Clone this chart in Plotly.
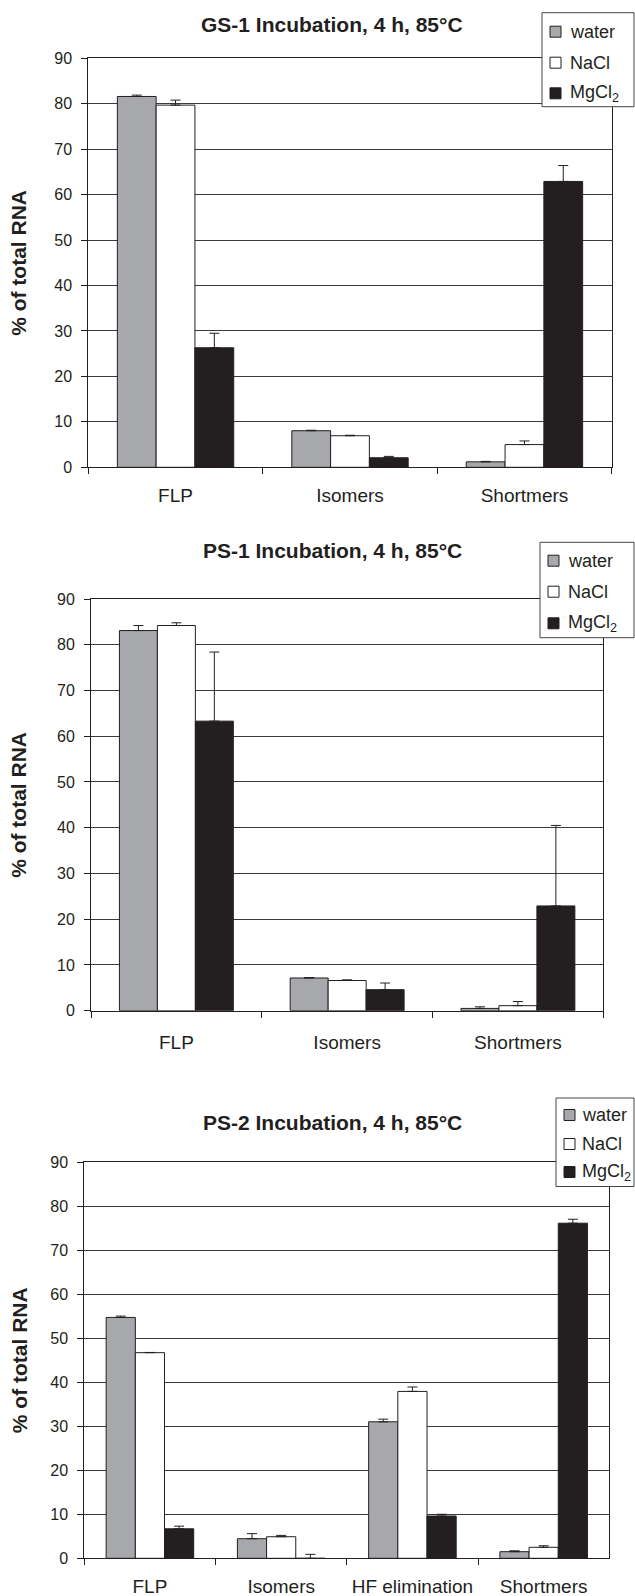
import plotly.graph_objects as go

# ---------------- data ----------------
series = ["water", "NaCl", "MgCl<sub>2</sub>"]

titles = ["GS-1 Incubation, 4 h, 85°C",
          "PS-1 Incubation, 4 h, 85°C",
          "PS-2 Incubation, 4 h, 85°C"]

cats_1 = ["FLP", "Isomers", "Shortmers"]
water_1 = [81.6, 8.05, 1.2]
nacl_1 = [79.7, 6.95, 5.0]
mgcl2_1 = [26.3, 2.1, 62.9]
water_1_err = [0.3, 0.1, 0.1]
nacl_1_err = [1.1, 0.1, 0.8]
mgcl2_1_err = [3.2, 0.3, 3.5]

cats_2 = ["FLP", "Isomers", "Shortmers"]
water_2 = [83.1, 7.15, 0.5]
nacl_2 = [84.2, 6.6, 1.1]
mgcl2_2 = [63.3, 4.6, 22.9]
water_2_err = [1.1, 0.1, 0.35]
nacl_2_err = [0.6, 0.15, 0.9]
mgcl2_2_err = [15.1, 1.45, 17.6]

cats_3 = ["FLP", "Isomers", "HF elimination", "Shortmers"]
water_3 = [54.7, 4.45, 31.0, 1.5]
nacl_3 = [46.7, 4.9, 37.9, 2.5]
mgcl2_3 = [6.7, 0.0, 9.6, 76.1]
water_3_err = [0.3, 1.15, 0.6, 0.2]
nacl_3_err = [0.05, 0.3, 1.0, 0.35]
mgcl2_3_err = [0.6, 0.9, 0.4, 0.9]

y_ticks = [0, 10, 20, 30, 40, 50, 60, 70, 80, 90]
y_title = "% of total RNA"

# ---------------- styling / layout ----------------
W, H = 635, 1596
FONT = "Liberation Sans, Arial, sans-serif"
INK = "#231f20"
fills = ["#a7a8ab", "#ffffff", "#231f20"]

# pixel boxes: (left, right, top, bottom)
boxes = [(88.3, 611.7, 58.3, 467.3),
         (91.0, 603.3, 599.0, 1010.7),
         (84.3, 609.3, 1162.0, 1558.3)]
title_y = [25, 550, 1122]
# legend boxes: (left, right, top, bottom), entry centre y's, symbol left, text left
legend_boxes = [(542, 634, 12.7, 106.7), (540, 634, 542.3, 637.7), (556, 634, 1098, 1186.5)]
legend_rows = [(31.7, 62.7, 93.3), (560.7, 591.7, 623.3), (1115, 1144, 1172)]
legend_sym_x = [550, 548, 564]
legend_txt_x = [568, 566, 580]
xlab_standoff = [11, 14, 11]


def px(x):
    return x / W


def py(y):
    return 1 - y / H


panels = [
    (cats_1, [water_1, nacl_1, mgcl2_1], [water_1_err, nacl_1_err, mgcl2_1_err]),
    (cats_2, [water_2, nacl_2, mgcl2_2], [water_2_err, nacl_2_err, mgcl2_2_err]),
    (cats_3, [water_3, nacl_3, mgcl2_3], [water_3_err, nacl_3_err, mgcl2_3_err]),
]

fig = go.Figure()
annotations = []
shapes = []
layout = dict(
    width=W, height=H,
    margin=dict(l=0, r=0, t=0, b=0, autoexpand=False),
    paper_bgcolor="white", plot_bgcolor="white",
    barmode="group", bargap=0.333, bargroupgap=0.0,
    font=dict(family=FONT, color=INK),
    showlegend=False,
)

for i, (cats, vals, errs) in enumerate(panels):
    n = i + 1
    sfx = "" if n == 1 else str(n)
    for j, name in enumerate(series):
        fig.add_trace(go.Bar(
            x=cats, y=vals[j], name=name,
            xaxis=f"x{sfx}", yaxis=f"y{sfx}",
            marker=dict(color=fills[j], line=dict(color=INK, width=1)),
            error_y=dict(type="data", symmetric=False, array=errs[j],
                         arrayminus=[0] * len(errs[j]),
                         color=INK, thickness=1, width=5),
        ))
    l, r, t, b = boxes[i]
    layout[f"xaxis{sfx}"] = dict(
        domain=[px(l), px(r)], anchor=f"y{sfx}",
        showline=True, linecolor=INK, linewidth=1, mirror=True,
        ticks="outside", ticklen=6, tickcolor=INK, tickson="boundaries",
        tickfont=dict(size=19, family=FONT, color=INK),
        tickangle=0, automargin=False,
        ticklabelstandoff=xlab_standoff[i],
        showgrid=False, fixedrange=True,
    )
    layout[f"yaxis{sfx}"] = dict(
        domain=[py(b), py(t)], anchor=f"x{sfx}",
        range=[0, 90], tickvals=y_ticks,
        showline=True, linecolor=INK, linewidth=1, mirror=True,
        ticks="outside", ticklen=6, tickcolor=INK,
        tickfont=dict(size=16, family=FONT, color=INK),
        ticklabelstandoff=6, automargin=False,
        showgrid=True, gridcolor="#3a3a3a", gridwidth=1,
        zeroline=False, fixedrange=True,
    )
    # chart title
    annotations.append(dict(
        text=f"<b>{titles[i]}</b>", x=px(332), y=py(title_y[i]),
        xref="paper", yref="paper", xanchor="center", yanchor="middle",
        showarrow=False, font=dict(size=21, family=FONT, color=INK),
    ))
    # y axis title
    annotations.append(dict(
        text=f"<b>{y_title}</b>", x=px(19), y=py((t + b) / 2),
        xref="paper", yref="paper", xanchor="center", yanchor="middle",
        textangle=-90, showarrow=False,
        font=dict(size=21, family=FONT, color=INK),
    ))
    # legend
    bl, br, bt, bb = legend_boxes[i]
    shapes.append(dict(type="rect", xref="paper", yref="paper",
                       x0=px(bl), x1=px(br), y0=py(bb), y1=py(bt),
                       line=dict(color="#444", width=1), fillcolor="white",
                       layer="above"))
    for j, name in enumerate(series):
        cy = legend_rows[i][j]
        sx = legend_sym_x[i]
        shapes.append(dict(type="rect", xref="paper", yref="paper",
                           x0=px(sx), x1=px(sx + 11), y0=py(cy + 5.5), y1=py(cy - 5.5),
                           line=dict(color=INK, width=1), fillcolor=fills[j],
                           layer="above"))
        annotations.append(dict(
            text=name, x=px(legend_txt_x[i]), y=py(cy),
            xref="paper", yref="paper", xanchor="left", yanchor="middle",
            showarrow=False, font=dict(size=18, family=FONT, color=INK),
        ))

layout["annotations"] = annotations
layout["shapes"] = shapes
fig.update_layout(**layout)
fig.write_html("out.html")
